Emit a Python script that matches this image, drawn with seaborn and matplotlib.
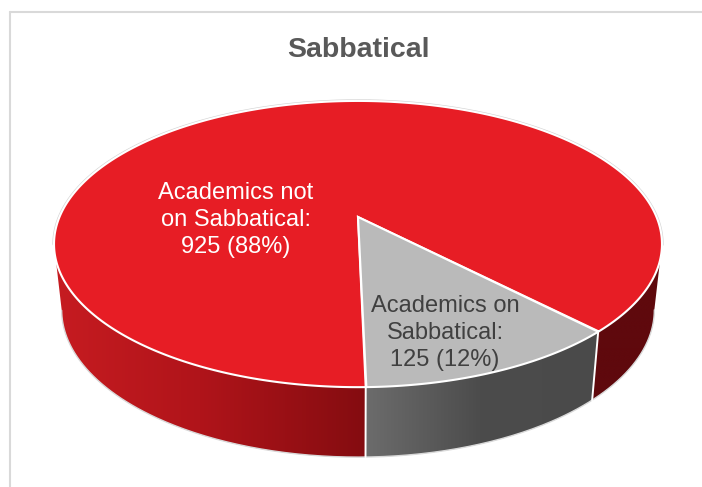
import numpy as np
import matplotlib
matplotlib.use("Agg")
import matplotlib.pyplot as plt
from matplotlib.colors import LinearSegmentedColormap, to_rgb
from matplotlib.patches import Polygon
import seaborn as sns

title = "Sabbatical"
categories = ["Academics not\non Sabbatical:", "Academics on\nSabbatical:"]
values = [925, 125]
top_colors = ["#e71d25", "#bababa"]
text_colors = ["#ffffff", "#404040"]

sns.set_theme(style="white")
plt.rcParams["font.family"] = ["Liberation Sans", "DejaVu Sans"]

fig = plt.figure(figsize=(7.02, 4.87), dpi=100)
ax = fig.add_axes([0, 0, 1, 1])

# projection of the pie's circles (perspective tilt)
K = 0.189
def top_rim(t):
    t = np.radians(t); w = 1 + K * np.cos(t)
    return np.column_stack([358 + 298.5 * np.sin(t) / w, 217 - 138 * np.cos(t) / w])
def low_rim(t):
    t = np.radians(t); w = 1 + K * np.cos(t)
    return np.column_stack([358 + 291 * np.sin(t) / w, 282 - 142 * np.cos(t) / w])

START = 178.8                       # clockwise from the back of the pie
sweep = 360 * np.array(values) / sum(values)
b_on_end = START
b_on_start = START - sweep[1]
b_not_end = START + sweep[0]
EDGE_R = np.degrees(np.arccos(-K))        # silhouette angles
EDGE_L = 360 - EDGE_R

def side(t0, t1, x0, x1, stops):
    ts = np.arange(t0, t1 + 0.2, 0.25)
    ts[-1] = t1
    poly = Polygon(np.vstack([top_rim(ts), low_rim(ts[::-1])]), closed=True,
                   transform=ax.transData, fc="none", ec="none")
    ax.add_patch(poly)
    span = x1 - x0
    cmap = LinearSegmentedColormap.from_list("g", [((x - x0) / span, c) for x, c in stops], N=512)
    im = ax.imshow(np.linspace(0, 1, 512)[None, :], cmap=cmap, vmin=0, vmax=1, aspect="auto",
                   extent=(x0, x1, 470, 230), zorder=2, interpolation="bilinear")
    im.set_clip_path(poly)

side(b_on_end, EDGE_L, 50, 370, [(50, "#c71c21"), (200, "#b0141a"), (370, "#830c10")])
side(b_on_start, b_on_end, 355, 605, [(355, "#6f6f6f"), (480, "#4c4c4c"), (605, "#4a4a4a")])
side(EDGE_R, b_on_start, 590, 670, [(590, "#5f090d"), (670, "#5f090d")])

ax.set_xlim(0, 702)
ax.set_ylim(487, 0)
ax.axis("off")

# silhouette and separators
p = low_rim(np.arange(EDGE_R, EDGE_L, 0.5))
ax.plot(p[:, 0], p[:, 1], color="#d9d9d9", lw=1.0, zorder=3)
for b in (b_on_end, b_on_start):
    q = np.vstack([top_rim(np.array([b])), low_rim(np.array([b]))])
    ax.plot(q[:, 0], q[:, 1], color="white", lw=1.4, zorder=3)

p = top_rim(np.arange(-EDGE_R, EDGE_R + 0.25, 0.5))
ax.plot(p[:, 0], p[:, 1], color="#d4d4d4", lw=2.4, zorder=3)

# top faces
apex = np.array([[358.0, 217.0]])
ax.fill(*np.vstack([apex, top_rim(np.arange(b_on_end, b_not_end, 0.25))]).T,
        fc=top_colors[0], ec="white", lw=1.5, zorder=4, joinstyle="miter")
ax.fill(*np.vstack([apex, top_rim(np.arange(b_on_start, b_on_end + 0.1, 0.25))]).T,
        fc=top_colors[1], ec="white", lw=1.5, zorder=5, joinstyle="miter")

# chart frame
ax.plot([10, 10], [487, 12], color="#d9d9d9", lw=1.5, zorder=1)
ax.plot([10, 702], [12, 12], color="#d9d9d9", lw=1.5, zorder=1)

ax.text(358, 50, title, ha="center", va="center", fontsize=20.5, fontweight="bold", color="#595959", zorder=6)

total = sum(values)
def label(i):
    return f"{categories[i]}\n{values[i]} ({round(100 * values[i] / total)}%)"
ax.text(236, 220, label(0), ha="center", va="center", fontsize=17, color=text_colors[0],
        linespacing=1.3, zorder=6)
ax.text(445, 333, label(1), ha="center", va="center", fontsize=17, color=text_colors[1],
        linespacing=1.3, zorder=6)

fig.savefig("out.png", dpi=100)
